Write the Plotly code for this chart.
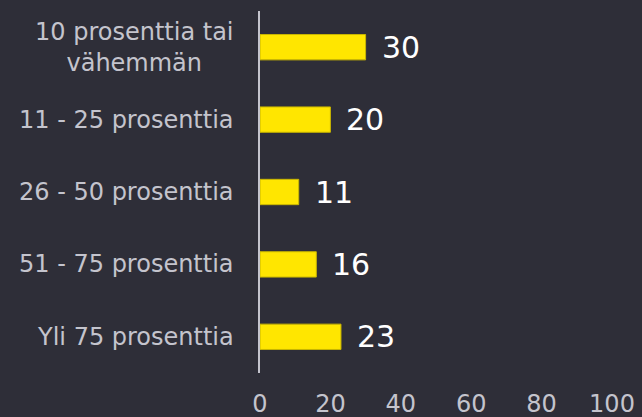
import plotly.graph_objects as go

categories = ["10 prosenttia tai<br>vähemmän", "11 - 25 prosenttia", "26 - 50 prosenttia",
              "51 - 75 prosenttia", "Yli 75 prosenttia"]
values = [30, 20, 11, 16, 23]
x_ticks = [0, 20, 40, 60, 80, 100]

BG = "#2e2e38"
YELLOW = "#ffe600"
GREY = "#c4c4cd"
FONT = "DejaVu Sans"

fig = go.Figure()
fig.add_trace(go.Bar(
    x=values, y=categories, orientation="h",
    marker=dict(color=YELLOW, line=dict(color="#c9b600", width=1)),
    width=0.35, hoverinfo="skip",
))

annotations = []
for c, v in zip(categories, values):
    annotations.append(dict(
        x=0, y=c, xref="x", yref="y", text=c, showarrow=False,
        xanchor="right", yanchor="middle", align="center", xshift=-24,
        font=dict(family=FONT, size=24, color=GREY),
    ))
    annotations.append(dict(
        x=v, y=c, xref="x", yref="y", text=str(v), showarrow=False,
        xanchor="left", yanchor="middle", xshift=14,
        font=dict(family=FONT, size=30, color="#ffffff"),
    ))

fig.update_layout(
    width=642, height=417,
    margin=dict(l=260, r=30, t=11, b=44, autoexpand=False),
    paper_bgcolor=BG, plot_bgcolor=BG,
    showlegend=False,
    annotations=annotations,
    xaxis=dict(range=[0, 100], tickvals=x_ticks, showgrid=False, zeroline=False,
               showline=False, tickfont=dict(family=FONT, size=24, color=GREY),
               ticks="", ticklabelstandoff=14, automargin=False, fixedrange=True),
    yaxis=dict(categoryorder="array", categoryarray=categories, autorange="reversed",
               showticklabels=False, showgrid=False, zeroline=False, automargin=False,
               showline=True, linecolor=GREY, linewidth=2, ticks="", fixedrange=True),
)

fig.write_html("out.html", config={"displayModeBar": False},
               post_script="document.body.style.margin='0';document.body.style.overflow='hidden';document.body.style.background='#2e2e38';")
